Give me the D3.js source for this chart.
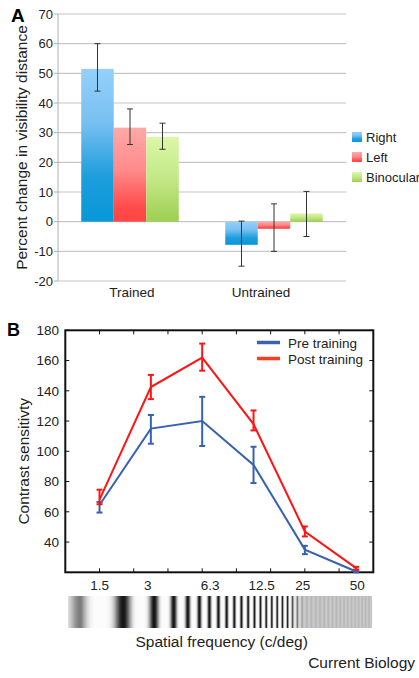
<!DOCTYPE html>
<html>
<head>
<meta charset="utf-8">
<script src="https://cdn.jsdelivr.net/npm/d3@7"></script>
<style>
body { margin: 0; background: #fff; }
svg { display: block; font-family: "Liberation Sans", Arial, sans-serif; }
</style>
</head>
<body>
<svg id="chart" width="419" height="678"></svg>
<script>
// ---- panel A data
const groups = ["Trained", "Untrained"];
const eyes = ["Right", "Left", "Binocular"];
const rightVals = [51.5, -7.8];
const rightLo = [44, -15];
const rightHi = [60, 0.2];
const leftVals = [31.7, -2.4];
const leftLo = [26, -10];
const leftHi = [38, 6];
const binoVals = [28.6, 2.8];
const binoLo = [24.4, -5];
const binoHi = [33.2, 10.2];
const aTicks = [-20, -10, 0, 10, 20, 30, 40, 50, 60, 70];

// ---- panel B data
const freqLabels = ["1.5", "3", "6.3", "12.5", "25", "50"];
const freqPos = [1, 2.5, 4, 5.5, 7, 8.5];
const preVals = [64.5, 115, 120, 91, 35, 20.5];
const preLo = [59.5, 105, 103.5, 79, 32, 20];
const preHi = [66.5, 124, 136, 103, 37.5, 21];
const postVals = [68, 142.5, 162, 118, 47, 22.8];
const postLo = [65, 134.5, 153.3, 113.8, 43.7, 21.8];
const postHi = [74.6, 150.5, 171.2, 127, 50.3, 23.6];
const bTicks = [40, 60, 80, 100, 120, 140, 160, 180];

const svg = d3.select("#chart");
svg.append("rect").attr("width", 419).attr("height", 678).attr("fill", "#fff");

// ================= panel A =================
const ax0 = d3.scaleBand().domain(groups).range([58, 346]);
const ax1 = d3.scaleBand().domain(eyes).range([0, ax0.bandwidth()])
    .paddingInner(0).paddingOuter(0.715);
const ay = d3.scaleLinear().domain([-20, 70]).range([281, 14]);

const eyeData = [
    {vals: rightVals, lo: rightLo, hi: rightHi},
    {vals: leftVals, lo: leftLo, hi: leftHi},
    {vals: binoVals, lo: binoLo, hi: binoHi}
];
const eyeStops = [
    [["0", "#95d0fa"], ["0.35", "#78c0f1"], ["0.7", "#1e9edc"], ["1", "#0797d8"]],
    [["0", "#ffa9a9"], ["0.45", "#ff8a8a"], ["0.85", "#ff4b4b"], ["1", "#ff4444"]],
    [["0", "#dcf8a8"], ["0.5", "#c3e786"], ["1", "#9ccf52"]]
];

const defs = svg.append("defs");
eyes.forEach(function (e, j) {
    const g = defs.append("linearGradient").attr("id", "grad" + j)
        .attr("x1", 0).attr("y1", 0).attr("x2", 0).attr("y2", 1);
    eyeStops[j].forEach(function (s) {
        g.append("stop").attr("offset", s[0]).attr("stop-color", s[1]);
    });
});

const pA = svg.append("g");

// grid
pA.selectAll(".grid").data(aTicks).enter().append("line")
    .attr("x1", 58).attr("x2", 346)
    .attr("y1", d => ay(d)).attr("y2", d => ay(d))
    .attr("stroke", "#c6c6c6").attr("stroke-width", 1.2);
pA.append("line").attr("x1", 58).attr("x2", 58).attr("y1", ay(70)).attr("y2", ay(-20))
    .attr("stroke", "#b0b0b0").attr("stroke-width", 1);
pA.selectAll(".tk").data(aTicks).enter().append("line")
    .attr("x1", 54).attr("x2", 58)
    .attr("y1", d => ay(d)).attr("y2", d => ay(d))
    .attr("stroke", "#b0b0b0");
pA.selectAll(".tl").data(aTicks).enter().append("text")
    .attr("x", 53).attr("y", d => ay(d) + 4.5)
    .attr("text-anchor", "end").attr("font-size", 13).attr("fill", "#222")
    .text(d => d);

// bars
groups.forEach(function (grp, i) {
    eyes.forEach(function (e, j) {
        const v = eyeData[j].vals[i];
        const x = ax0(grp) + ax1(e);
        pA.append("rect")
            .attr("x", x).attr("width", ax1.bandwidth())
            .attr("y", ay(Math.max(v, 0)))
            .attr("height", Math.abs(ay(v) - ay(0)))
            .attr("fill", "url(#grad" + j + ")");
    });
});

// error bars
groups.forEach(function (grp, i) {
    eyes.forEach(function (e, j) {
        const cx = ax0(grp) + ax1(e) + ax1.bandwidth() / 2;
        const lo = eyeData[j].lo[i], hi = eyeData[j].hi[i];
        const eb = pA.append("g").attr("stroke", "#333").attr("stroke-width", 1);
        eb.append("line").attr("x1", cx).attr("x2", cx).attr("y1", ay(lo)).attr("y2", ay(hi));
        eb.append("line").attr("x1", cx - 3).attr("x2", cx + 3).attr("y1", ay(lo)).attr("y2", ay(lo));
        eb.append("line").attr("x1", cx - 3).attr("x2", cx + 3).attr("y1", ay(hi)).attr("y2", ay(hi));
    });
});

// category labels
const catShift = [2, -13];
pA.selectAll(".cat").data(groups).enter().append("text")
    .attr("x", (d, i) => ax0(d) + ax0.bandwidth() / 2 + catShift[i])
    .attr("y", 297)
    .attr("text-anchor", "middle").attr("font-size", 13.5).attr("fill", "#222")
    .text(d => d);

// legend
const legA = pA.selectAll(".leg").data(eyes).enter().append("g")
    .attr("transform", (d, j) => "translate(352," + (137 + j * 20) + ")");
legA.append("rect").attr("x", 0).attr("y", -5).attr("width", 10).attr("height", 10)
    .attr("fill", (d, j) => "url(#grad" + j + ")");
legA.append("text").attr("x", 14).attr("y", 5)
    .attr("font-size", 13).attr("fill", "#222").text(d => d);

pA.append("text").attr("transform", "translate(27," + ((ay(70) + ay(-20)) / 2) + ") rotate(-90)")
    .attr("text-anchor", "middle").attr("font-size", 15.5).attr("fill", "#222")
    .text("Percent change in visibility distance");
pA.append("text").attr("x", 11).attr("y", 22).attr("font-size", 19)
    .attr("font-weight", "bold").attr("fill", "#000").text("A");

// ================= panel B =================
const bx = d3.scaleLinear().domain([0, 9]).range([65.3, 373.3]);
const by = d3.scaleLinear().domain([20, 180]).range([572.3, 330.3]);
const pB = svg.append("g");

pB.append("rect").attr("x", bx(0)).attr("y", by(180))
    .attr("width", bx(9) - bx(0)).attr("height", by(20) - by(180))
    .attr("fill", "none").attr("stroke", "#111").attr("stroke-width", 2);

const xt = d3.range(1, 9);
pB.selectAll(".xtt").data(xt).enter().append("line")
    .attr("x1", d => bx(d)).attr("x2", d => bx(d))
    .attr("y1", by(180)).attr("y2", by(180) + 4).attr("stroke", "#111");
pB.selectAll(".xtb").data(xt).enter().append("line")
    .attr("x1", d => bx(d)).attr("x2", d => bx(d))
    .attr("y1", by(20)).attr("y2", by(20) - 4).attr("stroke", "#111");
pB.selectAll(".ytl").data(bTicks).enter().append("line")
    .attr("x1", bx(0)).attr("x2", bx(0) + 4)
    .attr("y1", d => by(d)).attr("y2", d => by(d)).attr("stroke", "#111");
pB.selectAll(".ytr").data(bTicks).enter().append("line")
    .attr("x1", bx(9)).attr("x2", bx(9) - 4)
    .attr("y1", d => by(d)).attr("y2", d => by(d)).attr("stroke", "#111");

pB.selectAll(".yl").data(bTicks).enter().append("text")
    .attr("x", 59).attr("y", d => by(d) + 4.8)
    .attr("text-anchor", "end").attr("font-size", 13.5).attr("fill", "#222")
    .text(d => d);
// labels sit a little off the points in the original
const labelShift = [0, -3, 8, 8, -2, 1];
pB.selectAll(".xl").data(freqLabels).enter().append("text")
    .attr("x", (d, i) => bx(freqPos[i]) + labelShift[i]).attr("y", 590)
    .attr("text-anchor", "middle").attr("font-size", 13.5).attr("fill", "#222")
    .text(d => d);

const series = [
    {vals: preVals, lo: preLo, hi: preHi, color: "#3762b0"},
    {vals: postVals, lo: postLo, hi: postHi, color: "#ff1414"}
];
const line = d3.line().x((d, i) => bx(freqPos[i])).y(d => by(d));
series.forEach(function (s) {
    pB.append("path").datum(s.vals).attr("d", line)
        .attr("fill", "none").attr("stroke", s.color).attr("stroke-width", 2);
    const eb = pB.append("g").attr("stroke", s.color).attr("stroke-width", 2);
    s.vals.forEach(function (v, i) {
        const cx = bx(freqPos[i]);
        eb.append("line").attr("x1", cx).attr("x2", cx).attr("y1", by(s.lo[i])).attr("y2", by(s.hi[i]));
        eb.append("line").attr("x1", cx - 3).attr("x2", cx + 3).attr("y1", by(s.lo[i])).attr("y2", by(s.lo[i]));
        eb.append("line").attr("x1", cx - 3).attr("x2", cx + 3).attr("y1", by(s.hi[i])).attr("y2", by(s.hi[i]));
    });
});

// legend B
const legNames = ["Pre training", "Post training"];
const legColors = ["#3a62ae", "#ff3b1f"];
const legB = pB.selectAll(".legb").data(legNames).enter().append("g")
    .attr("transform", (d, i) => "translate(257," + (342.5 + i * 16) + ")");
legB.append("line").attr("x1", 0).attr("x2", 23).attr("y1", 0).attr("y2", 0)
    .attr("stroke", (d, i) => legColors[i]).attr("stroke-width", 3.5);
legB.append("text").attr("x", 31).attr("y", 5)
    .attr("font-size", 13.5).attr("fill", "#222").text(d => d);

pB.append("text").attr("transform", "translate(28.5," + ((by(180) + by(20)) / 2 + 10) + ") rotate(-90)")
    .attr("text-anchor", "middle").attr("font-size", 15.5).attr("fill", "#222")
    .text("Contrast sensitivty");
pB.append("text").attr("x", 7).attr("y", 336).attr("font-size", 18)
    .attr("font-weight", "bold").attr("fill", "#000").text("B");

// grating strip (sweep frequency, rendered per pixel column)
const gx0 = 68, gx1 = 372, gy0 = 596, gy1 = 628;
const fKnots = [[56, 0.010], [123, 0.025], [139, 0.031], [164, 0.05], [196, 0.09],
    [230, 0.13], [264, 0.175], [300, 0.21], [372, 0.3]];
const fAt = d3.scaleLinear().domain(fKnots.map(d => d[0])).range(fKnots.map(d => d[1])).clamp(true);
const sub = 8;
const phase = [];
let ph = 0;
for (let k = 0; k <= (gx1 - gx0) * sub; k++) {
    phase.push(ph);
    ph += 2 * Math.PI * fAt(gx0 + k / sub) / sub;
}
const off = Math.PI - phase[(123 - gx0) * sub];
const cols = [];
for (let px = gx0; px < gx1; px++) {
    let s = 0;
    for (let k = 0; k < sub; k++) {
        const x = px + k / sub;
        const p = phase[(px - gx0) * sub + k] + off;
        // left edge fades in, right end turns into faint gray
        const edge = Math.min(1, 0.45 + (x - gx0) / 24);
        const v = (1 - Math.cos(p)) / 2 * edge;
        const t = Math.min(1, Math.max(0, (x - 288) / 16));
        const hiC = 252 - 232 * Math.pow(v, 2.6);
        const loC = 204 - 22 * v;
        s += hiC * (1 - t) + loC * t;
    }
    cols.push({x: px, g: Math.round(s / sub)});
}
pB.append("g").selectAll("rect").data(cols).enter().append("rect")
    .attr("x", d => d.x).attr("y", gy0).attr("width", 1).attr("height", gy1 - gy0)
    .attr("shape-rendering", "crispEdges")
    .attr("fill", d => d3.rgb(d.g, d.g, d.g));

pB.append("text").attr("x", 221.7).attr("y", 647)
    .attr("text-anchor", "middle").attr("font-size", 15.5).attr("fill", "#222")
    .text("Spatial frequency (c/deg)");
svg.append("text").attr("x", 415).attr("y", 668)
    .attr("text-anchor", "end").attr("font-size", 15.5).attr("fill", "#222")
    .text("Current Biology");
</script>
</body>
</html>
